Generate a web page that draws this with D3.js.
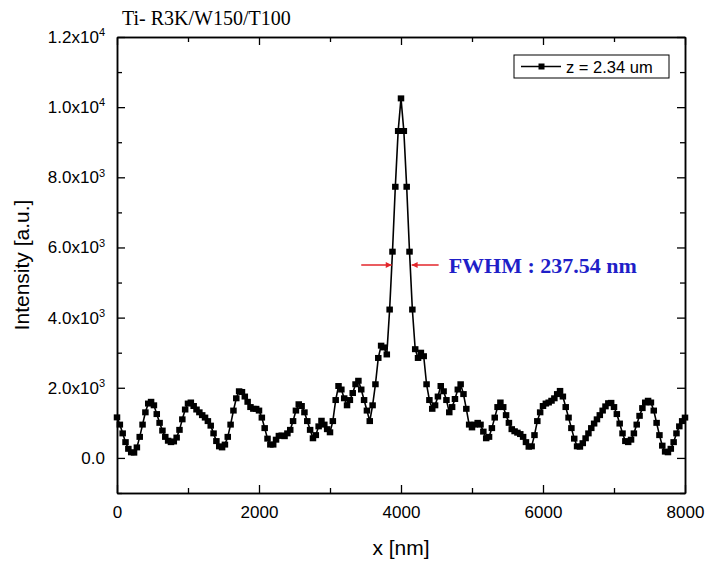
<!DOCTYPE html>
<html>
<head>
<meta charset="utf-8">
<script src="https://cdn.jsdelivr.net/npm/d3@7/dist/d3.min.js"></script>
<style>
  body { margin: 0; background: #fff; }
  svg text { font-family: Arial, "Liberation Sans", sans-serif; fill: #000; }
</style>
</head>
<body>
<svg id="chart" width="709" height="562"></svg>
<script>
// sample spacing of the line scan, nm
var xStep = 40;

// intensity, one value per 40 nm from 0 to 8000 nm
var intensity = [
  1156, 950, 700, 450, 260, 160, 150, 300, 600, 950,
  1300, 1550, 1600, 1500, 1250, 1000, 780, 600, 490, 450,
  470, 580, 800, 1100, 1380, 1550, 1580, 1480, 1380, 1300,
  1220, 1150, 1050, 920, 700, 480, 330, 300, 380, 600,
  950, 1350, 1700, 1900, 1880, 1750, 1600, 1450, 1400, 1400,
  1350, 1150, 850, 550, 380, 380, 520, 630, 640, 620,
  700, 800, 1050, 1350, 1530, 1480, 1300, 1050, 800, 560,
  650, 900, 1060, 950, 820, 730, 1050, 1650, 2050, 1950,
  1700, 1500, 1650, 1850, 2100, 2200, 1950, 1650, 1350, 1050,
  1500, 2100, 2850, 3200, 3150, 2950, 4230, 5880, 7730, 9320,
  10250, 9320, 7730, 5880, 4230, 3100, 2850, 3000, 2900, 2100,
  1650, 1400, 1500, 1750, 2050, 1900, 1650, 1300, 1450, 1680,
  1950, 2100, 1820, 1400, 950, 870, 950, 1000, 950, 750,
  560, 600, 850, 1150, 1450, 1580, 1450, 1220, 1000, 820,
  760, 720, 680, 600, 450, 320, 330, 650, 1050, 1300,
  1480, 1550, 1580, 1630, 1700, 1820, 1910, 1750, 1450, 1150,
  850, 550, 330, 320, 420, 560, 700, 850, 980, 1100,
  1220, 1350, 1470, 1560, 1570, 1450, 1250, 980, 700, 480,
  450, 520, 700, 950, 1200, 1420, 1580, 1630, 1580, 1350,
  1000, 650, 350, 180, 160, 260, 450, 700, 900, 1050,
  1150
];

var xMajor = [0, 2000, 4000, 6000, 8000];
var xMinor = [1000, 3000, 5000, 7000];
var yMajor = [0, 2000, 4000, 6000, 8000, 10000, 12000];
var yMinor = [-1000, 1000, 3000, 5000, 7000, 9000, 11000];
var yTickLabels = ["0.0", "2.0x10|3", "4.0x10|3", "6.0x10|3", "8.0x10|3", "1.0x10|4", "1.2x10|4"];

var titleText = "Ti- R3K/W150/T100";
var legendText = "z = 2.34 um";
var fwhmText = "FWHM : 237.54 nm";
// where the half-maximum arrows sit (nm, intensity)
var fwhmLeft = [3440, 3870];
var fwhmRight = [4530, 4150];
var fwhmLevel = 5500;

var data = intensity.map(function(v, i){ return {x: i * xStep, y: v}; });

var margin = {top: 37, right: 24, bottom: 69, left: 117};
var width = 709 - margin.left - margin.right;
var height = 562 - margin.top - margin.bottom;

var svg = d3.select("#chart");
var g = svg.append("g").attr("transform", "translate(" + margin.left + "," + margin.top + ")");

var x = d3.scaleLinear().domain([0, 8000]).range([0, width]);
var y = d3.scaleLinear().domain([-1000, 12000]).range([height, 0]);

//axes: ticks point inward on all four sides
function styleAxis(sel){
  sel.selectAll(".domain").attr("stroke", "#000").attr("stroke-width", 1.5);
  sel.selectAll(".tick line").attr("stroke", "#000").attr("stroke-width", 1.3);
  sel.selectAll(".tick text").attr("font-size", 17).attr("fill", "#000");
}

g.append("g").attr("transform", "translate(0," + height + ")")
  .call(d3.axisBottom(x).tickValues(xMajor).tickSize(-8).tickSizeOuter(0).tickPadding(13)
    .tickFormat(d3.format("d")))
  .call(styleAxis);
g.append("g").attr("transform", "translate(0," + height + ")")
  .call(d3.axisBottom(x).tickValues(xMinor).tickSize(-5).tickSizeOuter(0).tickFormat(""))
  .call(styleAxis);
g.append("g")
  .call(d3.axisTop(x).tickValues(xMajor).tickSize(-8).tickSizeOuter(0).tickFormat(""))
  .call(styleAxis);
g.append("g")
  .call(d3.axisTop(x).tickValues(xMinor).tickSize(-5).tickSizeOuter(0).tickFormat(""))
  .call(styleAxis);

var yLeft = g.append("g")
  .call(d3.axisLeft(y).tickValues(yMajor).tickSize(-8).tickSizeOuter(0).tickPadding(12)
    .tickFormat(function(d, i){ return yTickLabels[i]; }))
  .call(styleAxis);
g.append("g")
  .call(d3.axisLeft(y).tickValues(yMinor).tickSize(-5).tickSizeOuter(0).tickFormat(""))
  .call(styleAxis);
g.append("g").attr("transform", "translate(" + width + ",0)")
  .call(d3.axisRight(y).tickValues(yMajor).tickSize(-8).tickSizeOuter(0).tickFormat(""))
  .call(styleAxis);
g.append("g").attr("transform", "translate(" + width + ",0)")
  .call(d3.axisRight(y).tickValues(yMinor).tickSize(-5).tickSizeOuter(0).tickFormat(""))
  .call(styleAxis);

//turn "m.mx10|e" into mantissa + superscript exponent
yLeft.selectAll(".tick text").each(function(){
  var t = d3.select(this);
  var parts = t.text().split("|");
  if (parts.length < 2) return;
  t.text(null);
  t.append("tspan").text(parts[0]);
  t.append("tspan").attr("font-size", 11).attr("dy", "-0.6em").text(parts[1]);
});

//line + square markers
var line = d3.line().x(function(d){ return x(d.x); }).y(function(d){ return y(d.y); });
g.append("path").datum(data)
  .attr("fill", "none").attr("stroke", "#000").attr("stroke-width", 1.6)
  .attr("d", line);
g.selectAll(".pt").data(data).enter().append("rect")
  .attr("class", "pt")
  .attr("x", function(d){ return x(d.x) - 3.25; })
  .attr("y", function(d){ return y(d.y) - 3; })
  .attr("width", 6.5).attr("height", 6)
  .attr("fill", "#000");

//legend
var lg = g.append("g").attr("transform", "translate(397,18)");
lg.append("rect").attr("width", 155).attr("height", 23)
  .attr("fill", "#fff").attr("stroke", "#000").attr("stroke-width", 1);
lg.append("line").attr("x1", 7).attr("x2", 47).attr("y1", 11.5).attr("y2", 11.5)
  .attr("stroke", "#000").attr("stroke-width", 1.5);
lg.append("rect").attr("x", 24.5).attr("y", 8.5).attr("width", 6).attr("height", 6).attr("fill", "#000");
lg.append("text").attr("x", 52).attr("y", 17.5).attr("font-size", 16.5).text(legendText);

//FWHM arrows
var defs = svg.append("defs");
defs.append("marker").attr("id", "arrowRed")
  .attr("viewBox", "0 0 10 10").attr("refX", 10).attr("refY", 5)
  .attr("markerWidth", 7).attr("markerHeight", 6).attr("orient", "auto")
  .attr("markerUnits", "userSpaceOnUse")
  .append("path").attr("d", "M0,0L10,5L0,10Z").attr("fill", "#e3262b");

[fwhmLeft, fwhmRight].forEach(function(a){
  g.append("line")
    .attr("x1", x(a[0])).attr("x2", x(a[1]))
    .attr("y1", y(fwhmLevel)).attr("y2", y(fwhmLevel))
    .attr("stroke", "#e3262b").attr("stroke-width", 1.5)
    .attr("marker-end", "url(#arrowRed)");
});
g.append("text")
  .attr("x", x(fwhmRight[0]) + 10).attr("y", y(fwhmLevel) + 8)
  .style("font-family", "'Liberation Serif', 'Times New Roman', serif")
  .attr("font-weight", "bold").attr("font-size", 22)
  .style("fill", "#1f1fc8")
  .text(fwhmText);

//title and axis titles
svg.append("text").attr("x", 122).attr("y", 25)
  .style("font-family", "'Liberation Serif', 'Times New Roman', serif")
  .attr("font-size", 20).text(titleText);
svg.append("text")
  .attr("x", margin.left + width / 2).attr("y", 555)
  .attr("text-anchor", "middle").attr("font-size", 21).text("x [nm]");
svg.append("text")
  .attr("transform", "translate(29," + (margin.top + height / 2) + ") rotate(-90)")
  .attr("text-anchor", "middle").attr("font-size", 21).text("Intensity [a.u.]");
</script>
</body>
</html>
